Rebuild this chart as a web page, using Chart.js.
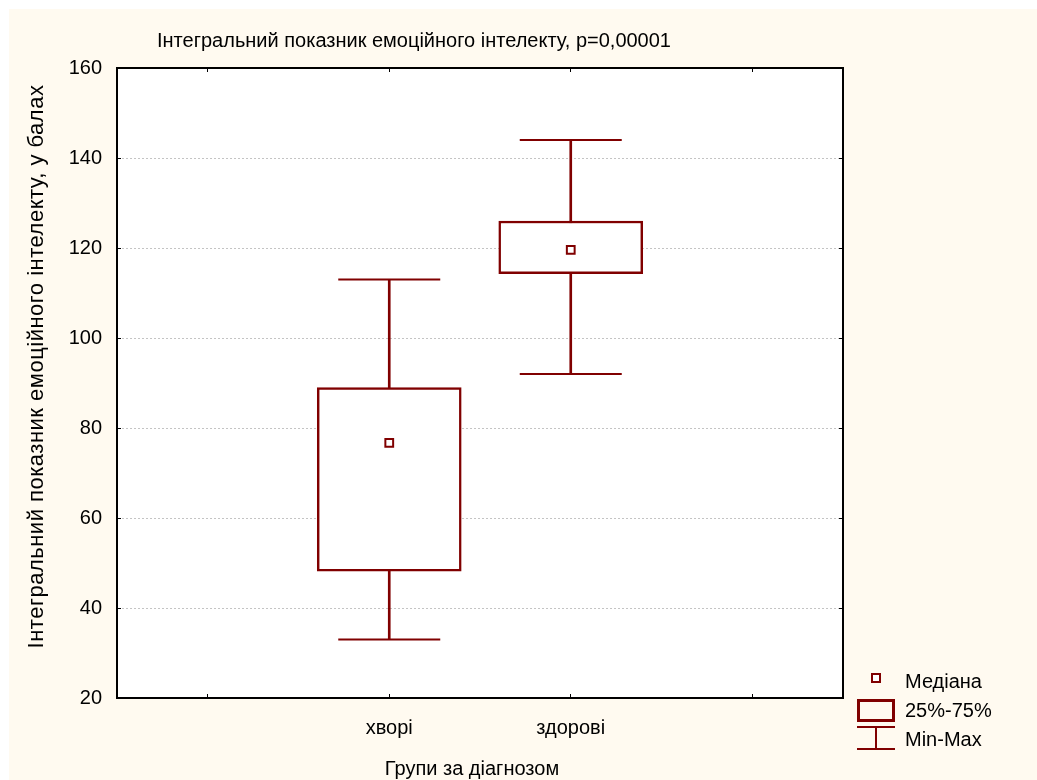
<!DOCTYPE html>
<html>
<head>
<meta charset="utf-8">
<script src="https://cdn.jsdelivr.net/npm/chart.js@4"></script>
<style>
	html, body { margin: 0; padding: 0; background: #ffffff; }
	#wrap { position: relative; width: 1037px; height: 780px; }
</style>
</head>
<body>
<div id="wrap"><canvas id="boxChart"></canvas></div>
<script>
// data
const categories = ['хворі', 'здорові'];
const minValues = [33, 92];
const q1Values = [48.2, 114.3];
const medianValues = [76.7, 119.6];
const q3Values = [89, 126];
const maxValues = [113, 144];
const yTicks = [20, 40, 60, 80, 100, 120, 140, 160];

const titleText = 'Інтегральний показник емоційного інтелекту, p=0,00001';
const yTitleText = 'Інтегральний показник емоційного інтелекту, у балах';
const xTitleText = 'Групи за діагнозом';
const legendLabels = ['Медіана', '25%-75%', 'Min-Max'];

const dark = '#800000';
const cream = '#fffaf0';
const font = "'Liberation Sans', Arial, sans-serif";

// empty slot on each side, like the original axis
const labels = ['', ...categories, ''];
const pad = (arr) => [null, ...arr, null];

const boxData = pad(categories.map((c, i) => [q1Values[i], q3Values[i]]));
const whiskerData = pad(categories.map((c, i) => [minValues[i], maxValues[i]]));

const backgroundPlugin = {
	id: 'background',
	beforeDraw(chart) {
		const { ctx, chartArea } = chart;
		ctx.save();
		ctx.fillStyle = '#ffffff';
		ctx.fillRect(0, 0, chart.width, chart.height);
		ctx.fillStyle = cream;
		ctx.fillRect(9, 9, chart.width - 9, chart.height - 9);
		ctx.fillStyle = '#ffffff';
		ctx.fillRect(chartArea.left, chartArea.top, chartArea.right - chartArea.left, chartArea.bottom - chartArea.top);
		ctx.restore();
	},
};

const textPlugin = {
	id: 'texts',
	afterDraw(chart) {
		const ctx = chart.ctx;
		ctx.save();
		ctx.fillStyle = '#000000';
		ctx.font = '20px ' + font;
		ctx.textBaseline = 'alphabetic';

		// main title
		ctx.textAlign = 'center';
		ctx.fillText(titleText, 414, 46.5);

		// x axis title
		ctx.fillText(xTitleText, 472, 775);

		// y axis title (wider in the original)
		ctx.save();
		ctx.font = '22px ' + font;
		ctx.letterSpacing = '0.5px';
		ctx.translate(43, 366.5);
		ctx.rotate(-Math.PI / 2);
		ctx.fillText(yTitleText, 0, 0);
		ctx.restore();

		// legend
		ctx.textAlign = 'left';
		ctx.fillText(legendLabels[0], 905, 688);
		ctx.fillText(legendLabels[1], 905, 717);
		ctx.fillText(legendLabels[2], 905, 746);

		ctx.strokeStyle = dark;
		ctx.fillStyle = '#ffffff';
		ctx.lineWidth = 2;
		ctx.fillRect(872, 674, 8, 8);
		ctx.strokeRect(872, 674, 8, 8);

		ctx.lineWidth = 3;
		ctx.strokeRect(858.5, 700.5, 35, 20);

		ctx.lineWidth = 2;
		ctx.beginPath();
		ctx.moveTo(857, 727);
		ctx.lineTo(895, 727);
		ctx.moveTo(876, 727);
		ctx.lineTo(876, 749);
		ctx.moveTo(857, 749);
		ctx.lineTo(895, 749);
		ctx.stroke();
		ctx.restore();
	},
};

const ctx = document.getElementById('boxChart').getContext('2d');
const boxChart = new Chart(ctx, {
	data: {
		labels: labels,
		datasets: [
			{
				type: 'line',
				label: 'Медіана',
				data: pad(medianValues),
				showLine: false,
				pointStyle: 'rect',
				pointRadius: 5.5,
				pointBorderWidth: 2,
				pointBorderColor: dark,
				pointBackgroundColor: '#ffffff',
				order: 0,
			},
			{
				type: 'bar',
				label: '25%-75%',
				data: boxData,
				backgroundColor: '#ffffff',
				borderColor: dark,
				borderWidth: 2.5,
				borderSkipped: false,
				barThickness: 144,
				grouped: false,
				order: 1,
			},
			{
				type: 'line',
				label: 'Min',
				data: pad(minValues),
				showLine: false,
				pointStyle: 'line',
				pointRadius: 51,
				pointBorderWidth: 2,
				pointBorderColor: dark,
				order: 2,
			},
			{
				type: 'line',
				label: 'Max',
				data: pad(maxValues),
				showLine: false,
				pointStyle: 'line',
				pointRadius: 51,
				pointBorderWidth: 2,
				pointBorderColor: dark,
				order: 2,
			},
			{
				type: 'bar',
				label: 'Min-Max',
				data: whiskerData,
				backgroundColor: dark,
				borderWidth: 0,
				barThickness: 2,
				grouped: false,
				order: 3,
			},
		],
	},
	options: {
		responsive: true,
		maintainAspectRatio: false,
		animation: false,
		events: [],
		layout: {
			padding: { left: 0, top: 68, right: 194, bottom: 0 },
		},
		plugins: {
			legend: { display: false },
			tooltip: { enabled: false },
			title: { display: false },
		},
		scales: {
			x: {
				type: 'category',
				position: 'bottom',
				offset: true,
				grid: {
					offset: false,
					drawOnChartArea: false,
					tickLength: -4,
					tickColor: '#000000',
					tickWidth: 1,
				},
				border: { color: '#000000', width: 2 },
				ticks: {
					color: '#000000',
					padding: 22,
					maxRotation: 0,
					autoSkip: false,
					font: { family: font, size: 20 },
				},
				afterFit(scale) {
					scale.height = 82;
				},
			},
			xTop: {
				type: 'category',
				position: 'top',
				offset: true,
				grid: {
					offset: false,
					drawOnChartArea: false,
					tickLength: -4,
					tickColor: '#000000',
					tickWidth: 1,
				},
				border: { color: '#000000', width: 2 },
				ticks: { display: false },
				afterFit(scale) {
					scale.height = 0;
				},
			},
			y: {
				type: 'linear',
				position: 'left',
				min: 20,
				max: 160,
				afterBuildTicks(scale) {
					scale.ticks = yTicks.map((v) => ({ value: v }));
				},
				grid: {
					color: (c) => (c.tick && (c.tick.value === 20 || c.tick.value === 160) ? 'rgba(0,0,0,0)' : '#c4c4c4'),
					lineWidth: 1,
					tickLength: -4,
					tickColor: '#000000',
					tickWidth: 1,
				},
				border: { color: '#000000', width: 2, dash: [2, 2] },
				ticks: {
					color: '#000000',
					padding: 19,
					font: { family: font, size: 20 },
				},
				afterFit(scale) {
					scale.width = 117;
				},
			},
			yRight: {
				type: 'linear',
				position: 'right',
				min: 20,
				max: 160,
				afterBuildTicks(scale) {
					scale.ticks = yTicks.map((v) => ({ value: v }));
				},
				grid: {
					drawOnChartArea: false,
					tickLength: -4,
					tickColor: '#000000',
					tickWidth: 1,
				},
				border: { color: '#000000', width: 2 },
				ticks: { display: false },
				afterFit(scale) {
					scale.width = 0;
				},
			},
		},
	},
	plugins: [backgroundPlugin, textPlugin],
});
</script>
</body>
</html>
